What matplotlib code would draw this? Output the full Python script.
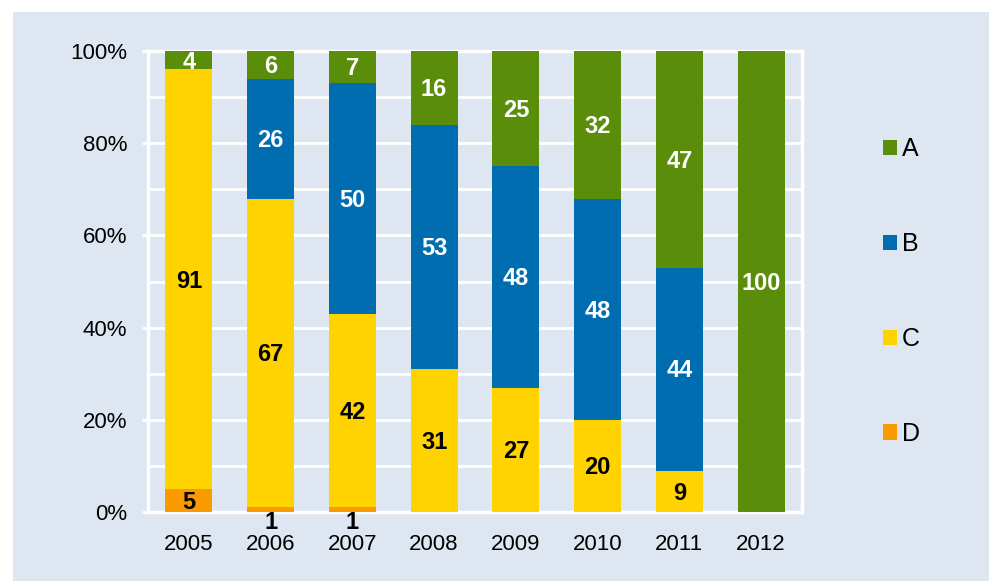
import matplotlib
matplotlib.use("Agg")
import matplotlib.pyplot as plt
from matplotlib.patches import Rectangle
from matplotlib.ticker import MultipleLocator, FuncFormatter
import numpy as np

years = ["2005", "2006", "2007", "2008", "2009", "2010", "2011", "2012"]
series_names = ["A", "B", "C", "D"]
A = [4, 6, 7, 16, 25, 32, 47, 100]
B = [0, 26, 50, 53, 48, 48, 44, 0]
C = [91, 67, 42, 31, 27, 20, 9, 0]
D = [5, 1, 1, 0, 0, 0, 0, 0]

colors = {"A": "#5a8e0a", "B": "#006db1", "C": "#ffd300", "D": "#f99a00"}
label_colors = {"A": "white", "B": "white", "C": "black", "D": "black"}
bg = "#dee7f1"

plt.rcParams["font.family"] = ["Liberation Sans", "DejaVu Sans"]

fig = plt.figure(figsize=(9.89, 5.81), dpi=100, facecolor="white")
fig.patches.append(Rectangle((13 / 989, 0), 1, 1 - 12 / 581, transform=fig.transFigure,
                             facecolor=bg, edgecolor="none", zorder=-10))
ax = fig.add_axes([148 / 989, 69 / 581, 654 / 989, 461 / 581])
ax.set_zorder(1)
ax.set_facecolor(bg)

x = np.arange(len(years))
width = 0.575
bottom = np.zeros(len(years))
order = [("D", D), ("C", C), ("B", B), ("A", A)]
handles = {}
for name, vals in order:
    vals = np.array(vals, dtype=float)
    bars = ax.bar(x, vals, width, bottom=bottom, color=colors[name], edgecolor="none",
                  zorder=3, label=name)
    handles[name] = bars
    for xi, v, b in zip(x, vals, bottom):
        if v <= 0:
            continue
        if v < 3:
            y = -2.3
        else:
            y = b + v / 2 - 0.4
        ax.text(xi, y, f"{int(v)}", ha="center", va="center", fontsize=17,
                fontweight="bold", color=label_colors[name], zorder=5, clip_on=False)
    bottom += vals

ax.set_xlim(-0.5, len(years) - 0.5)
ax.set_ylim(0, 100)
ax.set_xticks(x)
ax.set_xticklabels(years)
ax.yaxis.set_major_locator(MultipleLocator(20))
ax.yaxis.set_minor_locator(MultipleLocator(10))
ax.yaxis.set_major_formatter(FuncFormatter(lambda v, p: f"{int(v)}%"))
ax.grid(axis="y", which="both", color="white", linewidth=2, zorder=1)
ax.set_axisbelow(True)
for s in ["left", "right", "top", "bottom"]:
    ax.spines[s].set_color("white")
    ax.spines[s].set_linewidth(2.5)
    ax.spines[s].set_zorder(2)
ax.tick_params(axis="x", length=0, pad=16, labelsize=16)
ax.tick_params(axis="y", which="major", length=4, width=2, color="white", pad=11, labelsize=16)
ax.tick_params(axis="y", which="minor", length=0)

leg = fig.legend([handles[n] for n in series_names], series_names,
                 loc="upper left", bbox_to_anchor=(860 / 989, 1 - 115 / 581),
                 frameon=False, fontsize=18, handlelength=0.56, handleheight=0.56,
                 handletextpad=0.2, labelspacing=2.83)

fig.savefig("out.png", dpi=100, facecolor="white")
